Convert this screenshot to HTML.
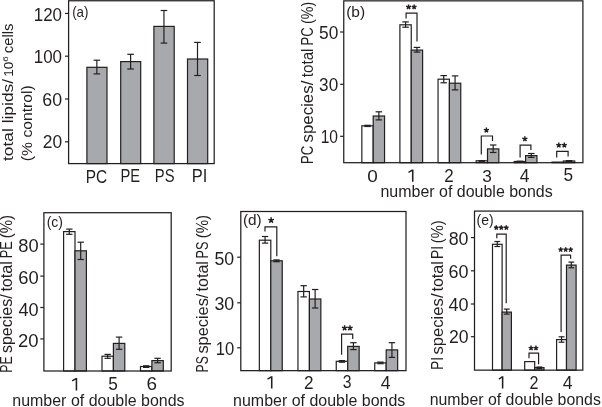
<!DOCTYPE html>
<html><head><meta charset="utf-8"><title>Lipid species bar charts</title>
<style>
html,body{margin:0;padding:0;background:#fff;}
body{width:602px;height:407px;overflow:hidden;}
svg{display:block;will-change:transform;}
text{font-family:"Liberation Sans",sans-serif;fill:#231f20;}
</style></head><body>
<svg width="602" height="407" viewBox="0 0 602 407">
<rect x="0" y="0" width="602" height="407" fill="#fff"/>
<rect x="86.90" y="67.30" width="20.10" height="96.30" fill="#a7a9ac" stroke="#231f20" stroke-width="1.2"/>
<line x1="96.85" y1="60.20" x2="96.85" y2="73.90" stroke="#231f20" stroke-width="1.2"/>
<line x1="93.55" y1="60.20" x2="100.15" y2="60.20" stroke="#231f20" stroke-width="1.2"/>
<line x1="93.55" y1="73.90" x2="100.15" y2="73.90" stroke="#231f20" stroke-width="1.2"/>
<rect x="120.70" y="61.60" width="20.00" height="102.00" fill="#a7a9ac" stroke="#231f20" stroke-width="1.2"/>
<line x1="130.60" y1="54.30" x2="130.60" y2="69.00" stroke="#231f20" stroke-width="1.2"/>
<line x1="127.30" y1="54.30" x2="133.90" y2="54.30" stroke="#231f20" stroke-width="1.2"/>
<line x1="127.30" y1="69.00" x2="133.90" y2="69.00" stroke="#231f20" stroke-width="1.2"/>
<rect x="153.90" y="26.40" width="20.30" height="137.20" fill="#a7a9ac" stroke="#231f20" stroke-width="1.2"/>
<line x1="163.95" y1="10.50" x2="163.95" y2="43.10" stroke="#231f20" stroke-width="1.2"/>
<line x1="160.65" y1="10.50" x2="167.25" y2="10.50" stroke="#231f20" stroke-width="1.2"/>
<line x1="160.65" y1="43.10" x2="167.25" y2="43.10" stroke="#231f20" stroke-width="1.2"/>
<rect x="187.50" y="59.00" width="20.20" height="104.60" fill="#a7a9ac" stroke="#231f20" stroke-width="1.2"/>
<line x1="197.50" y1="42.40" x2="197.50" y2="75.50" stroke="#231f20" stroke-width="1.2"/>
<line x1="194.20" y1="42.40" x2="200.80" y2="42.40" stroke="#231f20" stroke-width="1.2"/>
<line x1="194.20" y1="75.50" x2="200.80" y2="75.50" stroke="#231f20" stroke-width="1.2"/>
<rect x="68.60" y="0.75" width="145.60" height="162.85" fill="none" stroke="#231f20" stroke-width="1.25"/>
<line x1="65.00" y1="13.45" x2="68.60" y2="13.45" stroke="#231f20" stroke-width="1.2"/>
<line x1="65.00" y1="56.20" x2="68.60" y2="56.20" stroke="#231f20" stroke-width="1.2"/>
<line x1="65.00" y1="99.00" x2="68.60" y2="99.00" stroke="#231f20" stroke-width="1.2"/>
<line x1="65.00" y1="141.80" x2="68.60" y2="141.80" stroke="#231f20" stroke-width="1.2"/>
<text transform="matrix(1.6935 0 0 1.8028 33.745 20.920)" font-size="10">120</text>
<text transform="matrix(1.6935 0 0 1.8028 33.745 62.670)" font-size="10">100</text>
<text transform="matrix(1.7794 0 0 1.8028 42.310 105.920)" font-size="10">60</text>
<text transform="matrix(1.7402 0 0 1.8028 42.730 148.270)" font-size="10">20</text>
<text transform="matrix(1.3364 0 0 1.5160 72.148 17.316)" font-size="10">(a)</text>
<text transform="matrix(1.5433 0 0 1.7887 85.665 182.521)" font-size="10">PC</text>
<text transform="matrix(1.4711 0 0 1.7681 120.523 182.200)" font-size="10">PE</text>
<text transform="matrix(1.4793 0 0 1.7887 154.817 182.221)" font-size="10">PS</text>
<text transform="matrix(1.6494 0 0 1.7971 191.681 181.500)" font-size="10">PI</text>
<text transform="matrix(0 -1.7362 1.4400 0 12.900 160.947)" font-size="10">total lipids/</text>
<text transform="matrix(0 -1.3636 1.3000 0 12.900 76.791)" font-size="10">10</text>
<text transform="matrix(0 -1.0000 0.6600 0 7.800 61.700)" font-size="10">6</text>
<text transform="matrix(0 -1.4844 1.4400 0 12.900 53.194)" font-size="10">cells</text>
<text transform="matrix(0 -1.5690 1.4400 0 32.300 161.141)" font-size="10">(% control)</text>
<rect x="361.85" y="125.80" width="11.35" height="36.90" fill="#fff" stroke="#231f20" stroke-width="1.2"/>
<rect x="373.20" y="116.00" width="11.35" height="46.70" fill="#a7a9ac" stroke="#231f20" stroke-width="1.2"/>
<line x1="367.52" y1="125.30" x2="367.52" y2="126.50" stroke="#231f20" stroke-width="1.2"/>
<line x1="364.27" y1="125.30" x2="370.77" y2="125.30" stroke="#231f20" stroke-width="1.2"/>
<line x1="364.27" y1="126.50" x2="370.77" y2="126.50" stroke="#231f20" stroke-width="1.2"/>
<line x1="378.88" y1="111.80" x2="378.88" y2="119.90" stroke="#231f20" stroke-width="1.2"/>
<line x1="375.62" y1="111.80" x2="382.12" y2="111.80" stroke="#231f20" stroke-width="1.2"/>
<line x1="375.62" y1="119.90" x2="382.12" y2="119.90" stroke="#231f20" stroke-width="1.2"/>
<rect x="399.90" y="24.80" width="11.35" height="137.90" fill="#fff" stroke="#231f20" stroke-width="1.2"/>
<rect x="411.25" y="50.10" width="11.35" height="112.60" fill="#a7a9ac" stroke="#231f20" stroke-width="1.2"/>
<line x1="405.57" y1="21.90" x2="405.57" y2="27.20" stroke="#231f20" stroke-width="1.2"/>
<line x1="402.32" y1="21.90" x2="408.82" y2="21.90" stroke="#231f20" stroke-width="1.2"/>
<line x1="402.32" y1="27.20" x2="408.82" y2="27.20" stroke="#231f20" stroke-width="1.2"/>
<line x1="416.93" y1="47.40" x2="416.93" y2="52.10" stroke="#231f20" stroke-width="1.2"/>
<line x1="413.68" y1="47.40" x2="420.18" y2="47.40" stroke="#231f20" stroke-width="1.2"/>
<line x1="413.68" y1="52.10" x2="420.18" y2="52.10" stroke="#231f20" stroke-width="1.2"/>
<rect x="438.05" y="79.20" width="11.35" height="83.50" fill="#fff" stroke="#231f20" stroke-width="1.2"/>
<rect x="449.40" y="83.20" width="11.35" height="79.50" fill="#a7a9ac" stroke="#231f20" stroke-width="1.2"/>
<line x1="443.72" y1="75.60" x2="443.72" y2="82.80" stroke="#231f20" stroke-width="1.2"/>
<line x1="440.47" y1="75.60" x2="446.97" y2="75.60" stroke="#231f20" stroke-width="1.2"/>
<line x1="440.47" y1="82.80" x2="446.97" y2="82.80" stroke="#231f20" stroke-width="1.2"/>
<line x1="455.07" y1="75.90" x2="455.07" y2="89.90" stroke="#231f20" stroke-width="1.2"/>
<line x1="451.82" y1="75.90" x2="458.32" y2="75.90" stroke="#231f20" stroke-width="1.2"/>
<line x1="451.82" y1="89.90" x2="458.32" y2="89.90" stroke="#231f20" stroke-width="1.2"/>
<rect x="476.15" y="160.80" width="11.35" height="1.90" fill="#fff" stroke="#231f20" stroke-width="1.2"/>
<rect x="487.50" y="148.90" width="11.35" height="13.80" fill="#a7a9ac" stroke="#231f20" stroke-width="1.2"/>
<line x1="481.82" y1="160.60" x2="481.82" y2="161.70" stroke="#231f20" stroke-width="1.2"/>
<line x1="478.57" y1="160.60" x2="485.07" y2="160.60" stroke="#231f20" stroke-width="1.2"/>
<line x1="478.57" y1="161.70" x2="485.07" y2="161.70" stroke="#231f20" stroke-width="1.2"/>
<line x1="493.18" y1="145.00" x2="493.18" y2="152.50" stroke="#231f20" stroke-width="1.2"/>
<line x1="489.93" y1="145.00" x2="496.43" y2="145.00" stroke="#231f20" stroke-width="1.2"/>
<line x1="489.93" y1="152.50" x2="496.43" y2="152.50" stroke="#231f20" stroke-width="1.2"/>
<rect x="514.25" y="161.50" width="11.35" height="1.20" fill="#fff" stroke="#231f20" stroke-width="1.2"/>
<rect x="525.60" y="155.60" width="11.35" height="7.10" fill="#a7a9ac" stroke="#231f20" stroke-width="1.2"/>
<line x1="519.93" y1="161.20" x2="519.93" y2="161.80" stroke="#231f20" stroke-width="1.2"/>
<line x1="516.68" y1="161.20" x2="523.18" y2="161.20" stroke="#231f20" stroke-width="1.2"/>
<line x1="516.68" y1="161.80" x2="523.18" y2="161.80" stroke="#231f20" stroke-width="1.2"/>
<line x1="531.27" y1="153.50" x2="531.27" y2="157.40" stroke="#231f20" stroke-width="1.2"/>
<line x1="528.02" y1="153.50" x2="534.52" y2="153.50" stroke="#231f20" stroke-width="1.2"/>
<line x1="528.02" y1="157.40" x2="534.52" y2="157.40" stroke="#231f20" stroke-width="1.2"/>
<rect x="552.05" y="162.10" width="11.35" height="0.60" fill="#fff" stroke="#231f20" stroke-width="1.2"/>
<rect x="563.40" y="161.00" width="11.35" height="1.70" fill="#a7a9ac" stroke="#231f20" stroke-width="1.2"/>
<line x1="569.07" y1="160.60" x2="569.07" y2="161.60" stroke="#231f20" stroke-width="1.2"/>
<line x1="565.82" y1="160.60" x2="572.32" y2="160.60" stroke="#231f20" stroke-width="1.2"/>
<line x1="565.82" y1="161.60" x2="572.32" y2="161.60" stroke="#231f20" stroke-width="1.2"/>
<rect x="343.75" y="0.85" width="239.15" height="161.85" fill="none" stroke="#231f20" stroke-width="1.25"/>
<line x1="340.15" y1="32.00" x2="343.75" y2="32.00" stroke="#231f20" stroke-width="1.2"/>
<line x1="340.15" y1="84.30" x2="343.75" y2="84.30" stroke="#231f20" stroke-width="1.2"/>
<line x1="340.15" y1="136.30" x2="343.75" y2="136.30" stroke="#231f20" stroke-width="1.2"/>
<polyline points="406.10,18.50 406.10,13.10 417.00,13.10 417.00,41.40" fill="none" stroke="#231f20" stroke-width="1.2"/>
<polyline points="481.30,154.50 481.30,136.00 492.50,136.00 492.50,141.10" fill="none" stroke="#231f20" stroke-width="1.2"/>
<polyline points="520.10,157.40 520.10,145.10 530.90,145.10 530.90,150.10" fill="none" stroke="#231f20" stroke-width="1.2"/>
<polyline points="556.70,157.60 556.70,151.40 568.10,151.40 568.10,156.50" fill="none" stroke="#231f20" stroke-width="1.2"/>
<text transform="matrix(1.7330 0 0 1.8732 319.007 39.213)" font-size="10">50</text>
<text transform="matrix(1.7136 0 0 1.8732 319.115 91.463)" font-size="10">30</text>
<text transform="matrix(1.5606 0 0 1.8732 320.652 143.263)" font-size="10">10</text>
<text transform="matrix(1.5545 0 0 1.4681 346.167 17.117)" font-size="10">(b)</text>
<text transform="matrix(1.8958 0 0 1.7183 367.342 182.028)" font-size="10">0</text>
<path d="M411.95,169.50H413.50V181.70H411.95V171.25L408.75,172.95L408.20,171.85Z" fill="#231f20"/>
<text transform="matrix(1.6957 0 0 1.7429 444.352 181.700)" font-size="10">2</text>
<text transform="matrix(1.7234 0 0 1.7183 482.211 181.728)" font-size="10">3</text>
<text transform="matrix(1.7451 0 0 1.7794 519.651 181.978)" font-size="10">4</text>
<text transform="matrix(1.7234 0 0 1.7429 563.511 181.226)" font-size="10">5</text>
<text transform="matrix(1.5983 0 0 1.5700 380.481 197.000)" font-size="10">number of double bonds</text>
<text transform="matrix(0 -1.3228 1.5700 0 313.200 164.058)" font-size="10">PC</text>
<text transform="matrix(0 -1.6841 1.5700 0 313.200 142.405)" font-size="10">species/</text>
<text transform="matrix(0 -1.5167 1.5700 0 313.200 77.203)" font-size="10">total</text>
<text transform="matrix(0 -1.2992 1.5700 0 313.200 45.439)" font-size="10">PC</text>
<text transform="matrix(0 -1.4266 1.5700 0 313.200 24.056)" font-size="10">(%)</text>
<path d="M408.57,7.00L408.57,4.46M408.57,7.00L410.99,6.22M408.57,7.00L410.07,9.05M408.57,7.00L407.08,9.05M408.57,7.00L406.16,6.22" stroke="#231f20" stroke-width="1.45" fill="none"/>
<path d="M414.12,7.00L414.12,4.46M414.12,7.00L416.54,6.22M414.12,7.00L415.62,9.05M414.12,7.00L412.63,9.05M414.12,7.00L411.71,6.22" stroke="#231f20" stroke-width="1.45" fill="none"/>
<path d="M486.40,130.25L486.40,127.55M486.40,130.25L488.97,129.42M486.40,130.25L487.99,132.43M486.40,130.25L484.81,132.43M486.40,130.25L483.83,129.42" stroke="#231f20" stroke-width="1.45" fill="none"/>
<path d="M524.85,138.95L524.85,136.25M524.85,138.95L527.42,138.12M524.85,138.95L526.44,141.13M524.85,138.95L523.26,141.13M524.85,138.95L522.28,138.12" stroke="#231f20" stroke-width="1.45" fill="none"/>
<path d="M558.77,145.25L558.77,142.55M558.77,145.25L561.34,144.42M558.77,145.25L560.36,147.43M558.77,145.25L557.19,147.43M558.77,145.25L556.21,144.42" stroke="#231f20" stroke-width="1.45" fill="none"/>
<path d="M564.33,145.25L564.33,142.55M564.33,145.25L566.89,144.42M564.33,145.25L565.91,147.43M564.33,145.25L562.74,147.43M564.33,145.25L561.76,144.42" stroke="#231f20" stroke-width="1.45" fill="none"/>
<rect x="63.60" y="231.60" width="11.40" height="139.40" fill="#fff" stroke="#231f20" stroke-width="1.2"/>
<rect x="75.00" y="250.80" width="11.40" height="120.20" fill="#a7a9ac" stroke="#231f20" stroke-width="1.2"/>
<line x1="69.30" y1="229.10" x2="69.30" y2="234.30" stroke="#231f20" stroke-width="1.2"/>
<line x1="66.10" y1="229.10" x2="72.50" y2="229.10" stroke="#231f20" stroke-width="1.2"/>
<line x1="66.10" y1="234.30" x2="72.50" y2="234.30" stroke="#231f20" stroke-width="1.2"/>
<line x1="80.70" y1="242.20" x2="80.70" y2="259.50" stroke="#231f20" stroke-width="1.2"/>
<line x1="77.50" y1="242.20" x2="83.90" y2="242.20" stroke="#231f20" stroke-width="1.2"/>
<line x1="77.50" y1="259.50" x2="83.90" y2="259.50" stroke="#231f20" stroke-width="1.2"/>
<rect x="102.00" y="356.20" width="11.40" height="14.80" fill="#fff" stroke="#231f20" stroke-width="1.2"/>
<rect x="113.40" y="343.40" width="11.40" height="27.60" fill="#a7a9ac" stroke="#231f20" stroke-width="1.2"/>
<line x1="107.70" y1="354.40" x2="107.70" y2="358.30" stroke="#231f20" stroke-width="1.2"/>
<line x1="104.50" y1="354.40" x2="110.90" y2="354.40" stroke="#231f20" stroke-width="1.2"/>
<line x1="104.50" y1="358.30" x2="110.90" y2="358.30" stroke="#231f20" stroke-width="1.2"/>
<line x1="119.10" y1="337.10" x2="119.10" y2="349.30" stroke="#231f20" stroke-width="1.2"/>
<line x1="115.90" y1="337.10" x2="122.30" y2="337.10" stroke="#231f20" stroke-width="1.2"/>
<line x1="115.90" y1="349.30" x2="122.30" y2="349.30" stroke="#231f20" stroke-width="1.2"/>
<rect x="140.50" y="366.50" width="11.40" height="4.50" fill="#fff" stroke="#231f20" stroke-width="1.2"/>
<rect x="151.90" y="360.60" width="11.40" height="10.40" fill="#a7a9ac" stroke="#231f20" stroke-width="1.2"/>
<line x1="146.20" y1="365.80" x2="146.20" y2="367.40" stroke="#231f20" stroke-width="1.2"/>
<line x1="143.00" y1="365.80" x2="149.40" y2="365.80" stroke="#231f20" stroke-width="1.2"/>
<line x1="143.00" y1="367.40" x2="149.40" y2="367.40" stroke="#231f20" stroke-width="1.2"/>
<line x1="157.60" y1="358.30" x2="157.60" y2="362.80" stroke="#231f20" stroke-width="1.2"/>
<line x1="154.40" y1="358.30" x2="160.80" y2="358.30" stroke="#231f20" stroke-width="1.2"/>
<line x1="154.40" y1="362.80" x2="160.80" y2="362.80" stroke="#231f20" stroke-width="1.2"/>
<rect x="43.90" y="212.70" width="127.30" height="158.30" fill="none" stroke="#231f20" stroke-width="1.25"/>
<line x1="40.30" y1="244.10" x2="43.90" y2="244.10" stroke="#231f20" stroke-width="1.2"/>
<line x1="40.30" y1="276.10" x2="43.90" y2="276.10" stroke="#231f20" stroke-width="1.2"/>
<line x1="40.30" y1="307.50" x2="43.90" y2="307.50" stroke="#231f20" stroke-width="1.2"/>
<line x1="40.30" y1="338.90" x2="43.90" y2="338.90" stroke="#231f20" stroke-width="1.2"/>
<text transform="matrix(1.8301 0 0 1.9014 18.268 252.260)" font-size="10">80</text>
<text transform="matrix(1.8382 0 0 1.9014 18.181 284.360)" font-size="10">60</text>
<text transform="matrix(1.8143 0 0 1.9014 18.437 315.560)" font-size="10">40</text>
<text transform="matrix(1.8480 0 0 1.9014 18.076 346.960)" font-size="10">20</text>
<text transform="matrix(1.4038 0 0 1.5106 46.658 227.228)" font-size="10">(c)</text>
<path d="M75.65,378.00H77.20V390.40H75.65V379.75L72.35,381.45L71.80,380.35Z" fill="#231f20"/>
<text transform="matrix(1.7234 0 0 1.7714 108.211 390.123)" font-size="10">5</text>
<text transform="matrix(1.8913 0 0 1.7465 146.554 390.125)" font-size="10">6</text>
<text transform="matrix(1.5993 0 0 1.5700 12.281 406.200)" font-size="10">number of double bonds</text>
<text transform="matrix(0 -1.2314 1.5700 0 12.400 372.685)" font-size="10">PE</text>
<text transform="matrix(0 -1.6044 1.5700 0 12.400 353.081)" font-size="10">species/</text>
<text transform="matrix(0 -1.6167 1.5700 0 12.400 291.623)" font-size="10">total</text>
<text transform="matrix(0 -1.2810 1.5700 0 12.400 258.225)" font-size="10">PE</text>
<text transform="matrix(0 -1.4965 1.5700 0 12.400 238.198)" font-size="10">(%)</text>
<rect x="259.35" y="240.20" width="11.45" height="130.45" fill="#fff" stroke="#231f20" stroke-width="1.2"/>
<rect x="270.80" y="260.80" width="11.45" height="109.85" fill="#a7a9ac" stroke="#231f20" stroke-width="1.2"/>
<line x1="265.07" y1="236.50" x2="265.07" y2="243.10" stroke="#231f20" stroke-width="1.2"/>
<line x1="261.88" y1="236.50" x2="268.27" y2="236.50" stroke="#231f20" stroke-width="1.2"/>
<line x1="261.88" y1="243.10" x2="268.27" y2="243.10" stroke="#231f20" stroke-width="1.2"/>
<line x1="276.53" y1="259.90" x2="276.53" y2="261.70" stroke="#231f20" stroke-width="1.2"/>
<line x1="273.33" y1="259.90" x2="279.73" y2="259.90" stroke="#231f20" stroke-width="1.2"/>
<line x1="273.33" y1="261.70" x2="279.73" y2="261.70" stroke="#231f20" stroke-width="1.2"/>
<rect x="297.95" y="291.50" width="11.45" height="79.15" fill="#fff" stroke="#231f20" stroke-width="1.2"/>
<rect x="309.40" y="299.00" width="11.45" height="71.65" fill="#a7a9ac" stroke="#231f20" stroke-width="1.2"/>
<line x1="303.67" y1="285.70" x2="303.67" y2="296.90" stroke="#231f20" stroke-width="1.2"/>
<line x1="300.47" y1="285.70" x2="306.87" y2="285.70" stroke="#231f20" stroke-width="1.2"/>
<line x1="300.47" y1="296.90" x2="306.87" y2="296.90" stroke="#231f20" stroke-width="1.2"/>
<line x1="315.12" y1="289.50" x2="315.12" y2="308.00" stroke="#231f20" stroke-width="1.2"/>
<line x1="311.93" y1="289.50" x2="318.32" y2="289.50" stroke="#231f20" stroke-width="1.2"/>
<line x1="311.93" y1="308.00" x2="318.32" y2="308.00" stroke="#231f20" stroke-width="1.2"/>
<rect x="336.25" y="361.30" width="11.45" height="9.35" fill="#fff" stroke="#231f20" stroke-width="1.2"/>
<rect x="347.70" y="346.40" width="11.45" height="24.25" fill="#a7a9ac" stroke="#231f20" stroke-width="1.2"/>
<line x1="341.97" y1="360.60" x2="341.97" y2="362.20" stroke="#231f20" stroke-width="1.2"/>
<line x1="338.77" y1="360.60" x2="345.17" y2="360.60" stroke="#231f20" stroke-width="1.2"/>
<line x1="338.77" y1="362.20" x2="345.17" y2="362.20" stroke="#231f20" stroke-width="1.2"/>
<line x1="353.43" y1="342.70" x2="353.43" y2="349.60" stroke="#231f20" stroke-width="1.2"/>
<line x1="350.23" y1="342.70" x2="356.62" y2="342.70" stroke="#231f20" stroke-width="1.2"/>
<line x1="350.23" y1="349.60" x2="356.62" y2="349.60" stroke="#231f20" stroke-width="1.2"/>
<rect x="374.75" y="362.90" width="11.45" height="7.75" fill="#fff" stroke="#231f20" stroke-width="1.2"/>
<rect x="386.20" y="349.90" width="11.45" height="20.75" fill="#a7a9ac" stroke="#231f20" stroke-width="1.2"/>
<line x1="380.47" y1="362.10" x2="380.47" y2="363.70" stroke="#231f20" stroke-width="1.2"/>
<line x1="377.27" y1="362.10" x2="383.67" y2="362.10" stroke="#231f20" stroke-width="1.2"/>
<line x1="377.27" y1="363.70" x2="383.67" y2="363.70" stroke="#231f20" stroke-width="1.2"/>
<line x1="391.93" y1="342.70" x2="391.93" y2="357.40" stroke="#231f20" stroke-width="1.2"/>
<line x1="388.73" y1="342.70" x2="395.12" y2="342.70" stroke="#231f20" stroke-width="1.2"/>
<line x1="388.73" y1="357.40" x2="395.12" y2="357.40" stroke="#231f20" stroke-width="1.2"/>
<rect x="240.80" y="211.50" width="165.20" height="159.15" fill="none" stroke="#231f20" stroke-width="1.25"/>
<line x1="237.20" y1="257.20" x2="240.80" y2="257.20" stroke="#231f20" stroke-width="1.2"/>
<line x1="237.20" y1="302.80" x2="240.80" y2="302.80" stroke="#231f20" stroke-width="1.2"/>
<line x1="237.20" y1="347.80" x2="240.80" y2="347.80" stroke="#231f20" stroke-width="1.2"/>
<polyline points="265.00,231.50 265.00,226.90 276.80,226.90 276.80,256.30" fill="none" stroke="#231f20" stroke-width="1.2"/>
<polyline points="341.60,354.80 341.60,334.20 352.70,334.20 352.70,338.90" fill="none" stroke="#231f20" stroke-width="1.2"/>
<text transform="matrix(1.7718 0 0 1.8521 214.391 264.615)" font-size="10">50</text>
<text transform="matrix(1.7816 0 0 1.8521 214.387 309.765)" font-size="10">30</text>
<text transform="matrix(1.6616 0 0 1.8521 215.671 355.365)" font-size="10">10</text>
<text transform="matrix(1.5364 0 0 1.4043 242.978 225.051)" font-size="10">(d)</text>
<path d="M270.95,376.20H272.50V388.60H270.95V377.95L267.75,379.65L267.20,378.55Z" fill="#231f20"/>
<text transform="matrix(1.7174 0 0 1.7714 304.041 388.600)" font-size="10">2</text>
<text transform="matrix(1.5745 0 0 1.7465 342.770 388.325)" font-size="10">3</text>
<text transform="matrix(1.7647 0 0 1.8235 380.847 388.882)" font-size="10">4</text>
<text transform="matrix(1.5983 0 0 1.5700 233.081 405.550)" font-size="10">number of double bonds</text>
<text transform="matrix(0 -1.2231 1.5700 0 208.100 372.479)" font-size="10">PS</text>
<text transform="matrix(0 -1.6346 1.5700 0 208.100 353.590)" font-size="10">species/</text>
<text transform="matrix(0 -1.6056 1.5700 0 208.100 291.421)" font-size="10">total</text>
<text transform="matrix(0 -1.2645 1.5700 0 208.100 258.512)" font-size="10">PS</text>
<text transform="matrix(0 -1.4965 1.5700 0 208.100 238.198)" font-size="10">(%)</text>
<path d="M271.15,220.30L271.15,217.33M271.15,220.30L273.97,219.38M271.15,220.30L272.90,222.70M271.15,220.30L269.40,222.70M271.15,220.30L268.33,219.38" stroke="#231f20" stroke-width="1.45" fill="none"/>
<path d="M344.60,327.95L344.60,325.14M344.60,327.95L347.27,327.08M344.60,327.95L346.25,330.22M344.60,327.95L342.95,330.22M344.60,327.95L341.93,327.08" stroke="#231f20" stroke-width="1.45" fill="none"/>
<path d="M350.00,327.95L350.00,325.14M350.00,327.95L352.67,327.08M350.00,327.95L351.65,330.22M350.00,327.95L348.35,330.22M350.00,327.95L347.33,327.08" stroke="#231f20" stroke-width="1.45" fill="none"/>
<rect x="492.50" y="244.30" width="9.60" height="125.85" fill="#fff" stroke="#231f20" stroke-width="1.2"/>
<rect x="502.10" y="312.10" width="9.30" height="58.05" fill="#a7a9ac" stroke="#231f20" stroke-width="1.2"/>
<line x1="497.30" y1="241.50" x2="497.30" y2="246.50" stroke="#231f20" stroke-width="1.2"/>
<line x1="494.40" y1="241.50" x2="500.20" y2="241.50" stroke="#231f20" stroke-width="1.2"/>
<line x1="494.40" y1="246.50" x2="500.20" y2="246.50" stroke="#231f20" stroke-width="1.2"/>
<line x1="506.75" y1="309.10" x2="506.75" y2="314.10" stroke="#231f20" stroke-width="1.2"/>
<line x1="503.85" y1="309.10" x2="509.65" y2="309.10" stroke="#231f20" stroke-width="1.2"/>
<line x1="503.85" y1="314.10" x2="509.65" y2="314.10" stroke="#231f20" stroke-width="1.2"/>
<rect x="524.70" y="361.60" width="10.00" height="8.55" fill="#fff" stroke="#231f20" stroke-width="1.2"/>
<rect x="534.70" y="367.60" width="9.30" height="2.55" fill="#a7a9ac" stroke="#231f20" stroke-width="1.2"/>
<line x1="539.35" y1="367.00" x2="539.35" y2="368.60" stroke="#231f20" stroke-width="1.2"/>
<line x1="536.45" y1="367.00" x2="542.25" y2="367.00" stroke="#231f20" stroke-width="1.2"/>
<line x1="536.45" y1="368.60" x2="542.25" y2="368.60" stroke="#231f20" stroke-width="1.2"/>
<rect x="556.60" y="339.60" width="9.90" height="30.55" fill="#fff" stroke="#231f20" stroke-width="1.2"/>
<rect x="566.50" y="265.10" width="9.60" height="105.05" fill="#a7a9ac" stroke="#231f20" stroke-width="1.2"/>
<line x1="561.55" y1="336.80" x2="561.55" y2="342.20" stroke="#231f20" stroke-width="1.2"/>
<line x1="558.65" y1="336.80" x2="564.45" y2="336.80" stroke="#231f20" stroke-width="1.2"/>
<line x1="558.65" y1="342.20" x2="564.45" y2="342.20" stroke="#231f20" stroke-width="1.2"/>
<line x1="571.30" y1="262.10" x2="571.30" y2="267.80" stroke="#231f20" stroke-width="1.2"/>
<line x1="568.40" y1="262.10" x2="574.20" y2="262.10" stroke="#231f20" stroke-width="1.2"/>
<line x1="568.40" y1="267.80" x2="574.20" y2="267.80" stroke="#231f20" stroke-width="1.2"/>
<rect x="474.50" y="211.10" width="108.30" height="159.05" fill="none" stroke="#231f20" stroke-width="1.25"/>
<line x1="470.90" y1="237.60" x2="474.50" y2="237.60" stroke="#231f20" stroke-width="1.2"/>
<line x1="470.90" y1="270.80" x2="474.50" y2="270.80" stroke="#231f20" stroke-width="1.2"/>
<line x1="470.90" y1="304.00" x2="474.50" y2="304.00" stroke="#231f20" stroke-width="1.2"/>
<line x1="470.90" y1="336.70" x2="474.50" y2="336.70" stroke="#231f20" stroke-width="1.2"/>
<polyline points="496.80,238.20 496.80,234.10 506.20,234.10 506.20,303.30" fill="none" stroke="#231f20" stroke-width="1.2"/>
<polyline points="529.00,358.30 529.00,353.20 538.60,353.20 538.60,364.20" fill="none" stroke="#231f20" stroke-width="1.2"/>
<polyline points="561.10,331.90 561.10,255.20 570.60,255.20 570.60,258.80" fill="none" stroke="#231f20" stroke-width="1.2"/>
<text transform="matrix(1.7816 0 0 1.8521 448.687 244.715)" font-size="10">80</text>
<text transform="matrix(1.7990 0 0 1.8521 448.500 277.865)" font-size="10">60</text>
<text transform="matrix(1.8048 0 0 1.8521 448.439 311.265)" font-size="10">40</text>
<text transform="matrix(1.7598 0 0 1.8521 448.920 342.715)" font-size="10">20</text>
<text transform="matrix(1.4000 0 0 1.3936 476.560 225.073)" font-size="10">(e)</text>
<path d="M501.85,376.20H503.40V388.60H501.85V377.95L499.05,379.65L498.50,378.55Z" fill="#231f20"/>
<text transform="matrix(1.6087 0 0 1.7571 529.596 388.500)" font-size="10">2</text>
<text transform="matrix(1.7647 0 0 1.8235 562.647 388.882)" font-size="10">4</text>
<text transform="matrix(1.5880 0 0 1.5700 429.688 405.350)" font-size="10">number of double bonds</text>
<text transform="matrix(0 -1.3896 1.5700 0 442.700 369.912)" font-size="10">PI</text>
<text transform="matrix(0 -1.6676 1.5700 0 442.700 354.600)" font-size="10">species/</text>
<text transform="matrix(0 -1.6000 1.5700 0 442.700 291.520)" font-size="10">total</text>
<text transform="matrix(0 -1.3766 1.5700 0 442.700 258.901)" font-size="10">PI</text>
<text transform="matrix(0 -1.4755 1.5700 0 442.700 243.185)" font-size="10">(%)</text>
<path d="M496.30,227.75L496.30,225.37M496.30,227.75L498.56,227.02M496.30,227.75L497.70,229.67M496.30,227.75L494.90,229.67M496.30,227.75L494.04,227.02" stroke="#231f20" stroke-width="1.45" fill="none"/>
<path d="M501.30,227.75L501.30,225.37M501.30,227.75L503.56,227.02M501.30,227.75L502.70,229.67M501.30,227.75L499.90,229.67M501.30,227.75L499.04,227.02" stroke="#231f20" stroke-width="1.45" fill="none"/>
<path d="M506.30,227.75L506.30,225.37M506.30,227.75L508.56,227.02M506.30,227.75L507.70,229.67M506.30,227.75L504.90,229.67M506.30,227.75L504.04,227.02" stroke="#231f20" stroke-width="1.45" fill="none"/>
<path d="M531.05,348.10L531.05,345.56M531.05,348.10L533.46,347.32M531.05,348.10L532.54,350.15M531.05,348.10L529.56,350.15M531.05,348.10L528.64,347.32" stroke="#231f20" stroke-width="1.45" fill="none"/>
<path d="M535.95,348.10L535.95,345.56M535.95,348.10L538.36,347.32M535.95,348.10L537.44,350.15M535.95,348.10L534.46,350.15M535.95,348.10L533.54,347.32" stroke="#231f20" stroke-width="1.45" fill="none"/>
<path d="M560.68,249.65L560.68,247.27M560.68,249.65L562.94,248.92M560.68,249.65L562.08,251.57M560.68,249.65L559.29,251.57M560.68,249.65L558.42,248.92" stroke="#231f20" stroke-width="1.45" fill="none"/>
<path d="M565.65,249.65L565.65,247.27M565.65,249.65L567.91,248.92M565.65,249.65L567.05,251.57M565.65,249.65L564.25,251.57M565.65,249.65L563.39,248.92" stroke="#231f20" stroke-width="1.45" fill="none"/>
<path d="M570.62,249.65L570.62,247.27M570.62,249.65L572.88,248.92M570.62,249.65L572.01,251.57M570.62,249.65L569.22,251.57M570.62,249.65L568.36,248.92" stroke="#231f20" stroke-width="1.45" fill="none"/>
</svg>
</body></html>
